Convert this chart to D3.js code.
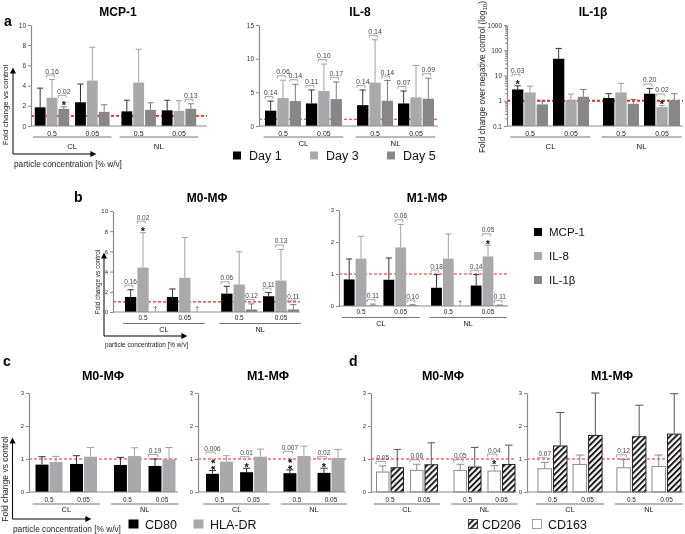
<!DOCTYPE html>
<html><head><meta charset="utf-8">
<script src="https://cdn.jsdelivr.net/npm/d3@7"></script>
<style>body{margin:0;background:#fff} svg{display:block;will-change:transform} text{font-family:"Liberation Sans",Arial,sans-serif}</style>
</head><body>
<svg id="chart" width="685" height="534"></svg>
<script>
// ---------------- DATA ----------------
const concLabels = ["0.5", "0.05", "0.5", "0.05"];
const particleLabels = ["CL", "NL"];
const dayNames = ["Day 1", "Day 3", "Day 5"];
const cytokineNames = ["MCP-1", "IL-8", "IL-1β"];
const markerNamesC = ["CD80", "HLA-DR"];
const markerNamesD = ["CD206", "CD163"];

// panel a (series: Day1, Day3, Day5; groups: CL0.5, CL0.05, NL0.5, NL0.05)
const mcp1Means = [[1.85, 2.35, 1.45, 1.55], [2.8, 4.5, 4.3, 1.5], [1.7, 1.4, 1.6, 1.7]];
const mcp1Upper = [[3.75, 4.15, 2.55, 2.55], [4.6, 7.8, 7.6, 2.5], [1.9, 2.1, 2.3, 2.2]];
const mcp1Ticks = [0, 2, 4, 6, 8, 10];
const mcp1Notes = [[0, 1, "0.16", 0], [0, 2, "0.02", 1], [3, 2, "0.13", 0]];

const il8Means = [[2.28, 3.35, 3.1, 3.35], [4.15, 5.2, 6.45, 4.25], [3.7, 4.0, 3.75, 4.05]];
const il8Upper = [[3.7, 5.35, 5.35, 5.2], [6.8, 9.2, 12.8, 9.0], [6.2, 6.55, 6.75, 7.1]];
const il8Ticks = [0, 5, 10, 15];
const il8Notes = [[0, 0, "0.14", 0], [0, 1, "0.06", 0], [0, 2, "0.14", 0], [1, 0, "0.11", 0], [1, 1, "0.10", 0], [1, 2, "0.17", 0],
                  [2, 0, "0.14", 0], [2, 1, "0.14", 0], [2, 2, "0.14", 0], [3, 0, "0.07", 0], [3, 2, "0.09", 0]];

const il1bMeans = [[2.8, 46, 1.28, 1.9], [2.14, 1.06, 2.14, 0.56], [0.72, 1.44, 0.76, 1.06]];
const il1bUpper = [[3.9, 118, 1.9, 3.08], [3.8, 1.84, 4.86, 0.65], [0.97, 2.8, 1.13, 1.9]];
const il1bTicks = [0.1, 1, 10, 100, 1000];
const il1bNotes = [[0, 0, "0.03", 1], [3, 0, "0.20", 0], [3, 1, "0.02", 1]];

// panel b (series: MCP-1, IL-8, IL-1β); null = not detected (†)
const bM0Means = [[1.49, 1.49, 1.82, 1.56], [4.4, 3.38, 2.72, 3.11], [null, null, 0.26, 0.26]];
const bM0Upper = [[2.2, 2.28, 2.55, 1.92], [7.85, 7.38, 5.96, 6.19], [null, null, 0.8, 0.73]];
const bM0Ticks = [0, 2, 4, 6, 8, 10];
const bM0Notes = [[0, 0, "0.16", 0], [0, 1, "0.02", 1], [2, 0, "0.06", 0], [2, 2, "0.12", 0], [3, 0, "0.11", 0], [3, 1, "0.13", 0], [3, 2, "0.11", 0]];

const bM1Means = [[0.83, 0.82, 0.57, 0.64], [1.48, 1.83, 1.48, 1.55], [0.02, 0.02, null, 0.02]];
const bM1Upper = [[1.47, 1.5, 0.98, 0.98], [2.18, 2.55, 2.25, 1.9], [0.06, 0.04, null, 0.03]];
const fracTicks = [0, 1, 2, 3];
const bM1Notes = [[0, 2, "0.11", 0], [1, 1, "0.06", 0], [1, 2, "0.10", 0], [2, 0, "0.18", 0], [3, 0, "0.14", 0], [3, 1, "0.05", 1], [3, 2, "0.11", 0]];

// panel c (series: CD80, HLA-DR)
const cM0Means = [[0.83, 0.85, 0.82, 0.79], [0.91, 1.07, 1.09, 0.99]];
const cM0Upper = [[1.07, 1.1, 1.05, 1.0], [1.08, 1.35, 1.34, 1.35]];
const cM0Notes = [[3, 0, "0.19", 0]];
const cM1Means = [[0.55, 0.6, 0.57, 0.58], [0.92, 1.07, 1.09, 1.03]];
const cM1Upper = [[0.65, 0.72, 0.67, 0.72], [1.1, 1.3, 1.39, 1.29]];
const cM1Notes = [[0, 0, "0.006", 2], [1, 0, "0.01", 1], [2, 0, "0.007", 2], [3, 0, "0.02", 1]];

// panel d (series: CD163 (open), CD206 (hatched))
const dM0Means = [[0.62, 0.67, 0.67, 0.65], [0.75, 0.84, 0.77, 0.85]];
const dM0Upper = [[0.79, 0.84, 0.84, 0.8], [1.29, 1.49, 1.35, 1.42]];
const dM0Notes = [[0, 0, "0.05", 0], [1, 0, "0.06", 0], [2, 0, "0.05", 0], [3, 0, "0.04", 1]];
const dM1Means = [[0.72, 0.85, 0.75, 0.79], [1.41, 1.73, 1.69, 1.77]];
const dM1Upper = [[0.9, 1.12, 0.99, 1.12], [2.41, 3.0, 2.63, 2.98]];
const dM1Notes = [[0, 0, "0.07", 0], [2, 0, "0.12", 0]];

// ---------------- DRAWING ----------------
const svg = d3.select("#chart");
const defs = svg.append("defs");
const pat = defs.append("pattern").attr("id", "hatch").attr("patternUnits", "userSpaceOnUse")
  .attr("width", 4.2).attr("height", 4.2).attr("patternTransform", "rotate(45)");
pat.append("rect").attr("width", 4.2).attr("height", 4.2).attr("fill", "#fff");
pat.append("line").attr("x1", 1).attr("y1", 0).attr("x2", 1).attr("y2", 4.2).attr("stroke", "#111").attr("stroke-width", 1.9);

const mk = defs.append("marker").attr("id", "arrow").attr("viewBox", "0 0 10 10").attr("refX", 1).attr("refY", 5)
  .attr("markerWidth", 7).attr("markerHeight", 6).attr("markerUnits", "userSpaceOnUse").attr("orient", "auto");
mk.append("path").attr("d", "M0,0 L10,5 L0,10 z").attr("fill", "#000");

const greyA = ["#000000", "#a9a9ab", "#878787"];
const errA = ["#333333", "#a0a0a2", "#7c7c7c"];

function txt(x, y, s, size, opt = {}) {
  const t = svg.append("text").attr("x", x).attr("y", y).attr("font-size", size).text(s)
    .attr("fill", opt.fill || "#000").attr("text-anchor", opt.anchor || "middle");
  if (opt.bold) t.attr("font-weight", "bold");
  if (opt.rotate) t.attr("transform", `rotate(-90,${x},${y})`);
  return t;
}

function drawPanel(p) {
  const g = svg.append("g");
  const base = p.log ? p.domain[0] : 0;
  const y = (p.log ? d3.scaleLog() : d3.scaleLinear()).domain(p.domain).range([p.yBot, p.yTop]);
  const slot = d3.scaleLinear().domain([0, 3 + p.gap]).range([p.c0, p.c3]);
  const step = slot(1) - slot(0);
  const gx = i => slot(i + (i >= 2 ? p.gap : 0));
  const nS = p.means.length;
  const half = nS * (p.barW + 1) / 2;
  const inner = d3.scaleBand().domain(d3.range(nS)).range([-half, half]).paddingInner(1 / (p.barW + 1));
  const bw = inner.bandwidth();

  // reference line at 1
  g.append("line").attr("x1", p.axisX).attr("x2", p.xEnd).attr("y1", y(1)).attr("y2", y(1))
    .attr("stroke", "#e5262b").attr("stroke-width", p.refW || 1.2).attr("stroke-dasharray", "3,2");

  // bars
  p.means.forEach((arr, si) => {
    const recs = arr.map((v, gi) => ({ v, u: p.uppers[si][gi], gi }));
    const valid = recs.filter(d => d.v != null);
    const sw = p.strokes ? 1 : 0;
    g.selectAll(null).data(valid).enter().append("rect")
      .attr("x", d => gx(d.gi) + inner(si) + sw / 2)
      .attr("y", d => y(d.v) + sw / 2)
      .attr("width", bw - sw)
      .attr("height", d => Math.max(0.5, y(base) - y(d.v) - sw / 2))
      .attr("fill", p.fills[si])
      .attr("stroke", p.strokes ? p.strokes[si] : "none")
      .attr("stroke-width", sw);
    const ev = valid.filter(d => d.u != null);
    g.selectAll(null).data(ev).enter().append("line")
      .attr("x1", d => gx(d.gi) + inner(si) + bw / 2).attr("x2", d => gx(d.gi) + inner(si) + bw / 2)
      .attr("y1", d => y(d.v)).attr("y2", d => y(d.u)).attr("stroke", p.errs[si]).attr("stroke-width", 1);
    g.selectAll(null).data(ev).enter().append("line")
      .attr("x1", d => gx(d.gi) + inner(si) + bw * 0.22).attr("x2", d => gx(d.gi) + inner(si) + bw * 0.78)
      .attr("y1", d => y(d.u)).attr("y2", d => y(d.u)).attr("stroke", p.errs[si]).attr("stroke-width", 1);
    // daggers for missing values
    g.selectAll(null).data(recs.filter(d => d.v == null)).enter().append("text")
      .attr("x", d => gx(d.gi) + inner(si) + bw / 2).attr("y", y(base) - 1)
      .attr("text-anchor", "middle").attr("font-size", p.noteFont + 1).attr("fill", "#555").text("†");
  });

  // baseline
  g.append("line").attr("x1", p.axisX).attr("x2", p.xEnd).attr("y1", y(base)).attr("y2", y(base))
    .attr("stroke", "#8a8a8a").attr("stroke-width", 1.2);

  // y axis
  const ax = g.append("g").attr("transform", `translate(${p.axisX},0)`)
    .call(d3.axisLeft(y).tickValues(p.ticks).tickSize(3).tickSizeOuter(0).tickPadding(2)
      .tickFormat(d => String(d)));
  if (p.log) {
    const minor = [];
    [0.1, 1, 10, 100].forEach(dec => { for (let k = 2; k <= 9; k++) minor.push(dec * k); });
    g.append("g").attr("transform", `translate(${p.axisX},0)`)
      .call(d3.axisLeft(y).tickValues(minor).tickSize(2).tickSizeOuter(0).tickFormat(""))
      .call(a => a.select(".domain").remove())
      .selectAll("line").attr("stroke", "#8a8a8a");
  }
  ax.select(".domain").attr("stroke", "#8a8a8a").attr("stroke-width", 1.2);
  ax.selectAll(".tick line").attr("stroke", "#8a8a8a");
  ax.selectAll(".tick text").attr("font-size", p.tickFont).attr("fill", "#333")
    .attr("font-family", "Liberation Sans, Arial, sans-serif");

  // x group labels
  concLabels.forEach((c, i) => {
    g.append("text").attr("x", gx(i)).attr("y", y(base) + p.lblDy).attr("dy", "0.35em")
      .attr("text-anchor", "middle").attr("font-size", p.grpFont).attr("fill", "#222").text(c);
  });
  particleLabels.forEach((c, k) => {
    const cx = (gx(2 * k) + gx(2 * k + 1)) / 2;
    const w = step * 1.95;
    g.append("line").attr("x1", cx - w / 2).attr("x2", cx + w / 2)
      .attr("y1", y(base) + p.lineDy).attr("y2", y(base) + p.lineDy).attr("stroke", "#777").attr("stroke-width", 1);
    g.append("text").attr("x", cx).attr("y", y(base) + p.grpDy).attr("dy", "0.35em")
      .attr("text-anchor", "middle").attr("font-size", p.grpFont + 0.8).attr("fill", "#111").text(c);
  });

  // annotations
  p.notes.forEach(([gi, si, label, stars]) => {
    const bx = gx(gi) + inner(si);
    const cx = bx + bw / 2;
    const u = p.uppers[si][gi];
    const yRef = y(u != null ? u : p.means[si][gi]);
    if (stars === 1) {
      g.append("text").attr("x", cx).attr("y", yRef + 2.5).attr("text-anchor", "middle").attr("font-size", 11)
        .attr("font-weight", "bold").attr("fill", "#111").text("*");
    } else if (stars > 1) {
      // stacked asterisks: one text run turned upright
      const sc = yRef - 7;            // centre of the stack
      const bx0 = cx + 0.57 * 11;     // baseline offset so glyphs sit on the bar centre
      g.append("text").attr("x", bx0).attr("y", sc).attr("text-anchor", "middle").attr("font-size", 11)
        .attr("font-weight", "bold").attr("fill", "#111").attr("letter-spacing", 2.2)
        .attr("transform", `rotate(-90,${bx0},${sc})`).text("*".repeat(stars));
    }
    const by = yRef - 4.5 - 7 * stars;
    g.append("path").attr("d", `M${bx},${by + 2.5}V${by}H${bx + bw * 0.7}V${by + 2.5}`)
      .attr("fill", "none").attr("stroke", "#9a9a9a").attr("stroke-width", 0.9);
    g.append("text").attr("x", cx).attr("y", by - 1.5).attr("text-anchor", "middle")
      .attr("font-size", p.noteFont).attr("fill", "#444").text(label);
  });
}

const common3 = { fills: greyA, errs: errA };
// Panel a
drawPanel({ ...common3, axisX: 31, yTop: 25, yBot: 126, xEnd: 207, c0: 52, c3: 179, gap: 0.15, barW: 10.5,
  domain: [0, 10], ticks: mcp1Ticks, means: mcp1Means, uppers: mcp1Upper, notes: mcp1Notes,
  lblDy: 8, lineDy: 11, grpDy: 20, tickFont: 6.5, grpFont: 7, noteFont: 7, refW: 1.8 });
drawPanel({ ...common3, axisX: 259, yTop: 25, yBot: 126, xEnd: 438, c0: 283, c3: 416, gap: 0.25, barW: 11,
  domain: [0, 15], ticks: il8Ticks, means: il8Means, uppers: il8Upper, notes: il8Notes,
  lblDy: 8, lineDy: 11, grpDy: 17, tickFont: 6.5, grpFont: 7, noteFont: 7 });
drawPanel({ ...common3, axisX: 507, yTop: 25, yBot: 126, xEnd: 683, c0: 530, c3: 662, gap: 0.22, barW: 11, log: true,
  domain: [0.1, 1000], ticks: il1bTicks, means: il1bMeans, uppers: il1bUpper, notes: il1bNotes,
  lblDy: 8, lineDy: 11, grpDy: 20, tickFont: 6.5, grpFont: 7, noteFont: 7, refW: 1.8 });
// Panel b
drawPanel({ ...common3, axisX: 113, yTop: 211, yBot: 312, xEnd: 300, c0: 143, c3: 281, gap: 0.3, barW: 11,
  domain: [0, 10], ticks: bM0Ticks, means: bM0Means, uppers: bM0Upper, notes: bM0Notes,
  lblDy: 6, lineDy: 11.5, grpDy: 17.5, tickFont: 6, grpFont: 6.5, noteFont: 6.5 });
drawPanel({ ...common3, axisX: 339, yTop: 210, yBot: 306, xEnd: 508, c0: 361, c3: 488, gap: 0.2, barW: 10.5,
  domain: [0, 3], ticks: fracTicks, means: bM1Means, uppers: bM1Upper, notes: bM1Notes,
  lblDy: 6, lineDy: 11.5, grpDy: 17.5, tickFont: 6, grpFont: 6.5, noteFont: 6.5 });
// Panel c
const fillsC = ["#000000", "#a9a9ab"], errsC = ["#333333", "#a0a0a2"];
drawPanel({ fills: fillsC, errs: errsC, axisX: 29, yTop: 393, yBot: 492, xEnd: 178, c0: 49, c3: 162, gap: 0.27, barW: 12.5,
  domain: [0, 3], ticks: fracTicks, means: cM0Means, uppers: cM0Upper, notes: cM0Notes,
  lblDy: 8, lineDy: 12, grpDy: 17, tickFont: 6, grpFont: 6.5, noteFont: 6.5 });
drawPanel({ fills: fillsC, errs: errsC, axisX: 198, yTop: 393, yBot: 492, xEnd: 346, c0: 219.5, c3: 331, gap: 0.27, barW: 12.5,
  domain: [0, 3], ticks: fracTicks, means: cM1Means, uppers: cM1Upper, notes: cM1Notes,
  lblDy: 8, lineDy: 12, grpDy: 17, tickFont: 6, grpFont: 6.5, noteFont: 6.5 });
// Panel d
const fillsD = ["#ffffff", "url(#hatch)"], strokesD = ["#8a8a8a", "#222222"], errsD = ["#8a8a8a", "#555555"];
drawPanel({ fills: fillsD, strokes: strokesD, errs: errsD, axisX: 371, yTop: 393, yBot: 492, xEnd: 516, c0: 390, c3: 501.5, gap: 0.28, barW: 13,
  domain: [0, 3], ticks: fracTicks, means: dM0Means, uppers: dM0Upper, notes: dM0Notes,
  lblDy: 8, lineDy: 12, grpDy: 17, tickFont: 6, grpFont: 6.5, noteFont: 6.5 });
drawPanel({ fills: fillsD, strokes: strokesD, errs: errsD, axisX: 527, yTop: 393, yBot: 492, xEnd: 684, c0: 552.5, c3: 666.5, gap: 0.25, barW: 14,
  domain: [0, 3], ticks: fracTicks, means: dM1Means, uppers: dM1Upper, notes: dM1Notes,
  lblDy: 8, lineDy: 12, grpDy: 17, tickFont: 6, grpFont: 6.5, noteFont: 6.5 });

// ---------- titles, panel letters ----------
txt(118, 16, cytokineNames[0], 12, { bold: true });
txt(360, 16, cytokineNames[1], 12, { bold: true });
txt(593, 16, cytokineNames[2], 12, { bold: true });
txt(207, 202, "M0-MΦ", 12, { bold: true });
txt(427, 202, "M1-MΦ", 12, { bold: true });
txt(103, 380, "M0-MΦ", 12.5, { bold: true });
txt(268, 380, "M1-MΦ", 12.5, { bold: true });
txt(443, 380, "M0-MΦ", 12.5, { bold: true });
txt(612, 380, "M1-MΦ", 12.5, { bold: true });
txt(4, 26, "a", 14, { bold: true, anchor: "start" });
txt(74, 202, "b", 14, { bold: true, anchor: "start" });
txt(3, 366, "c", 14, { bold: true, anchor: "start" });
txt(349, 366, "d", 14, { bold: true, anchor: "start" });

// ---------- axis titles & arrows ----------
function arrows(x0, y0, yTop, xRight) {
  svg.append("line").attr("x1", x0).attr("y1", y0).attr("x2", x0).attr("y2", yTop + 6)
    .attr("stroke", "#000").attr("stroke-width", 1).attr("marker-end", "url(#arrow)");
  svg.append("line").attr("x1", x0).attr("y1", y0).attr("x2", xRight - 6).attr("y2", y0)
    .attr("stroke", "#000").attr("stroke-width", 1).attr("marker-end", "url(#arrow)");
}
arrows(13, 154, 67, 97);
txt(8, 105, "Fold change vs control", 8, { rotate: true, fill: "#222" });
txt(14, 167, "particle concentration [% w/v]", 8.3, { anchor: "start", fill: "#222" });
const l1b = txt(485, 153, "Fold change over negative control (log", 8.4, { rotate: true, anchor: "start", fill: "#222" });
l1b.append("tspan").attr("font-size", 6).attr("dy", 2).text("10");
l1b.append("tspan").attr("dy", -2).text(")");

arrows(104, 336, 252, 188);
txt(100, 282, "Fold change vs control", 6.4, { rotate: true, fill: "#222" });
txt(105, 347, "particle concentration [% w/v]", 6.4, { anchor: "start", fill: "#222" });

arrows(12.5, 519, 437, 92);
txt(8, 479, "Fold change vs control", 8.5, { rotate: true, fill: "#222" });
txt(13, 531.5, "particle concentration [% w/v]", 8.3, { anchor: "start", fill: "#222" });

// ---------- legends ----------
function legendItem(x, y, w, h, fill, stroke, label, size, tx) {
  svg.append("rect").attr("x", x).attr("y", y).attr("width", w).attr("height", h).attr("fill", fill)
    .attr("stroke", stroke || "none").attr("stroke-width", stroke ? 0.8 : 0);
  svg.append("text").attr("x", tx).attr("y", y + h / 2).attr("dy", "0.36em").attr("font-size", size).attr("fill", "#111").text(label);
}
const dayX = [233, 310, 387];
dayNames.forEach((n, i) => legendItem(dayX[i], 151.5, 8, 8, greyA[i], null, n, 12.5, dayX[i] + 16));
cytokineNames.forEach((n, i) => legendItem(534, 228 + 24 * i, 8, 8, greyA[i], null, n, 11.5, 549));
legendItem(128.5, 519.5, 10, 9, fillsC[0], null, markerNamesC[0], 12.5, 145);
legendItem(193.5, 519.5, 10, 9, fillsC[1], null, markerNamesC[1], 12.5, 210);
legendItem(468.5, 519.5, 9, 9, "url(#hatch)", "#222", markerNamesD[0], 12.5, 482);
legendItem(532.5, 519.5, 9, 9, "#fff", "#8a8a8a", markerNamesD[1], 12.5, 548);
</script>
</body></html>
